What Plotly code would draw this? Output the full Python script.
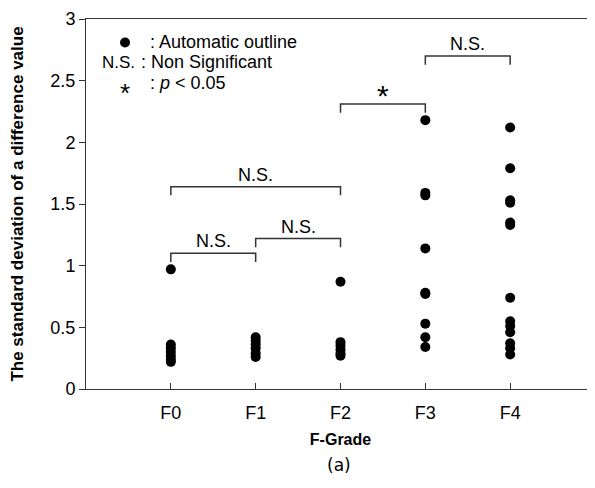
import plotly.graph_objects as go

categories = ["F0", "F1", "F2", "F3", "F4"]
f0_vals = [0.97, 0.36, 0.33, 0.30, 0.27, 0.24, 0.22]
f1_vals = [0.42, 0.39, 0.36, 0.33, 0.29, 0.26]
f2_vals = [0.87, 0.38, 0.35, 0.32, 0.29, 0.27]
f3_vals = [2.18, 1.59, 1.57, 1.14, 0.78, 0.77, 0.53, 0.42, 0.34]
f4_vals = [2.12, 1.79, 1.53, 1.51, 1.35, 1.33, 0.74, 0.55, 0.51, 0.46, 0.37, 0.33, 0.28]
series = [f0_vals, f1_vals, f2_vals, f3_vals, f4_vals]
y_ticks = [0, 0.5, 1, 1.5, 2, 2.5, 3]
y_ticklabels = ["0", "0.5", "1", "1.5", "2", "2.5", "3"]

# significance brackets: (from index, to index, height, label)
brackets = [(0, 1, 1.10, "N.S."), (1, 2, 1.22, "N.S."), (0, 2, 1.64, "N.S."),
            (2, 3, 2.31, "*"), (3, 4, 2.70, "N.S.")]

FONT = "Liberation Sans, Arial, sans-serif"
fig = go.Figure()
for i, vals in enumerate(series):
    fig.add_trace(go.Scatter(x=[i] * len(vals), y=vals, mode="markers",
                             marker=dict(color="black", size=10), showlegend=False))

drop = 0.07
for a, b, h, lab in brackets:
    fig.add_trace(go.Scatter(x=[a, a, b, b], y=[h - drop, h, h, h - drop], mode="lines",
                             line=dict(color="#333", width=1.5), showlegend=False, hoverinfo="skip"))
    if lab == "*":
        fig.add_annotation(x=(a + b) / 2, y=h, text="*", showarrow=False, yanchor="bottom",
                           yshift=-10, font=dict(size=30, family=FONT, color="black"))
    else:
        fig.add_annotation(x=(a + b) / 2, y=h, text=lab, showarrow=False, yanchor="bottom",
                           yshift=0, font=dict(size=18, family=FONT, color="black"))

# legend box text
fig.add_trace(go.Scatter(x=[-0.54], y=[2.81], mode="markers", marker=dict(color="black", size=10),
                         showlegend=False, hoverinfo="skip"))
fig.add_annotation(x=-0.27, y=2.81, text=": Automatic outline", showarrow=False, xanchor="left",
                   font=dict(size=18, family=FONT, color="black"))
fig.add_annotation(x=-0.38, y=2.65, text=": Non Significant", showarrow=False, xanchor="left",
                   font=dict(size=18, family=FONT, color="black"))
fig.add_annotation(x=-0.40, y=2.65, text="N.S.", showarrow=False, xanchor="right",
                   font=dict(size=17, family=FONT, color="black"))
fig.add_annotation(x=-0.27, y=2.48, text=": <i>p</i> < 0.05", showarrow=False, xanchor="left",
                   font=dict(size=18, family=FONT, color="black"))
fig.add_annotation(x=-0.54, y=2.46, text="*", showarrow=False, yshift=-7,
                   font=dict(size=26, family=FONT, color="black"))

fig.add_annotation(xref="paper", yref="paper", x=0.497, y=-0.205, text="(a)", showarrow=False,
                   xanchor="center", yanchor="middle",
                   font=dict(size=17, family="DejaVu Sans, sans-serif", color="black"))

fig.update_xaxes(range=[-1, 5], tickmode="array", tickvals=list(range(5)), ticktext=categories,
                 ticks="inside", ticklen=6, tickcolor="#333", showline=True, linecolor="#333",
                 mirror=True, showgrid=False, zeroline=False, ticklabelstandoff=7,
                 tickfont=dict(size=18, family=FONT, color="black"),
                 title=dict(text="<b>F-Grade</b>", font=dict(size=16, family=FONT, color="black"),
                            standoff=12))
fig.update_yaxes(range=[0, 3], tickmode="array", tickvals=y_ticks, ticktext=y_ticklabels,
                 ticks="outside", ticklen=6, tickcolor="#333",
                 showline=True, linecolor="#333", mirror=True, showgrid=False, zeroline=False,
                 tickfont=dict(size=18, family=FONT, color="black"),
                 title=dict(text="<b>The standard deviation of a difference value</b>",
                            font=dict(size=17, family=FONT, color="black"), standoff=22))
fig.update_layout(width=587, height=480, margin=dict(l=78, r=0, t=11, b=99, autoexpand=False),
                  plot_bgcolor="white", paper_bgcolor="white")
fig.write_html("out.html")
